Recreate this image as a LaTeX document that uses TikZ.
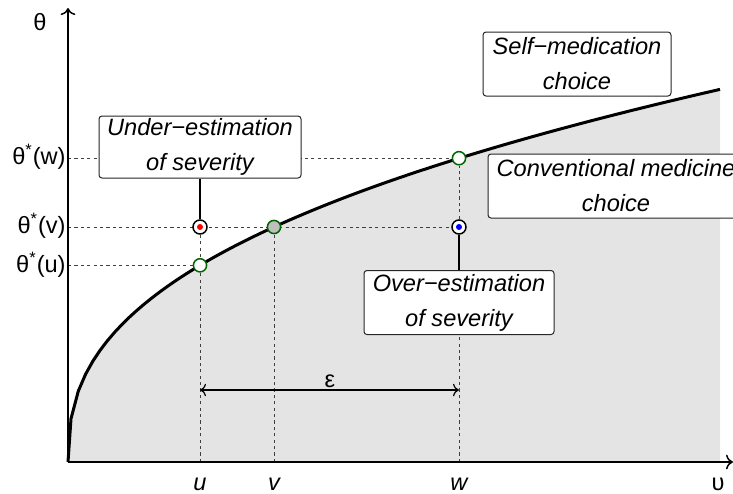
\documentclass[tikz,border=0pt]{standalone}
\usepackage{fontspec}
\setmainfont{Liberation Sans}
\usetikzlibrary{arrows.meta, positioning, backgrounds}
\definecolor{areagray}{HTML}{E4E4E4}
\definecolor{ptgreen}{HTML}{006400}
\tikzset{
	choicebox/.style={
			draw=black!85,
			fill=white,
			rounded corners=1.5pt,
			line width=0.5pt,
			align=center,
			inner sep=0pt,
			font=\fontsize{11.8}{17.5}\selectfont\itshape
		},
	curvept/.style={
			circle,
			draw=ptgreen,
			line width=0.75pt,
			fill=white,
			minimum size=6.6pt,
			inner sep=0pt
		},
	guesspt/.style={
			circle,
			draw=black,
			line width=0.75pt,
			fill=white,
			minimum size=7pt,
			inner sep=0pt
		},
	guidline/.style={
			draw=black!75,
			line width=0.45pt,
			dash pattern=on 1.6pt off 1.6pt
		},
	axislabel/.style={font=\fontsize{11.8}{14}\selectfont, inner sep=0pt}
}

\begin{document}
\begin{tikzpicture}[x=0.5pt, y=-0.5pt]
  \useasboundingbox (0,0) rectangle (733,493);

  % axes ends
  \coordinate (o) at (68,462);
  \coordinate (ytop) at (68,8);
  \coordinate (xend) at (733,462);

  % feet of the guide lines
  \coordinate (xu) at (200,462);
  \coordinate (xv) at (274,462);
  \coordinate (xw) at (459,462);
  \coordinate (yu) at (68,265.3);
  \coordinate (yv) at (68,227);
  \coordinate (yw) at (68,158.2);

  % points
  \node[curvept] (pu) at (200,265.3) {};
  \node[curvept, fill=black!25] (pv) at (274,227) {};
  \node[curvept] (pw) at (459,158.2) {};
  \node[guesspt] (pr) at (200,227) {};
  \node[guesspt] (pb) at (459,227) {};
  \fill[red] (pr) circle (1.5pt);
  \fill[blue] (pb) circle (1.5pt);

  % boxes
  \node[choicebox, minimum width=101pt, minimum height=31pt] (under) at (200,147) {Under−estimation\\of severity};
  \node[choicebox, minimum width=95pt, minimum height=32pt] (over) at (459,302.5) {Over−estimation\\of severity};
  \node[choicebox, minimum width=94pt, minimum height=32pt] (self) at (577,64) {Self−medication\\choice};
  \node[choicebox, minimum width=128pt, minimum height=32pt] (conv) at (616,186) {Conventional medicine\\choice};

  \draw[line width=0.6pt] (under) -- (pr);
  \draw[line width=0.6pt] (over) -- (pb);

  % labels
  \node[axislabel] (th) at (40,22) {θ};
  \node[axislabel, anchor=east] (lw) at (66,157) {θ\textsuperscript{*}(w)};
  \node[axislabel, anchor=east] (lv) at (66,226) {θ\textsuperscript{*}(v)};
  \node[axislabel, anchor=east] (lu) at (66,265) {θ\textsuperscript{*}(u)};
  \node[axislabel] (tu) at (200,484) {\itshape u};
  \node[axislabel] (tv) at (274,484) {\itshape v};
  \node[axislabel] (tw) at (459,484) {\itshape w};
  \node[axislabel] (tups) at (718,484) {υ};

  \coordinate (ea) at (200,390);
  \coordinate (eb) at (459,390);
  \draw[line width=0.6pt, {To[length=3pt]}-{To[length=3pt]}] (ea) -- (eb);
  \node[axislabel] (eps) at (330,381) {ε};

  \begin{scope}[on background layer]
    \fill[areagray] (o) -- plot[domain=3:652, samples=90] ({68+\x},{462-27.9*\x^0.4}) -- (720,462) -- cycle;
    \draw[guidline] (yw) -- (pw);
    \draw[guidline] (yv) -- (pb);
    \draw[guidline] (yu) -- (pu);
    \draw[guidline] (xu) -- (pr);
    \draw[guidline] (xv) -- (pv);
    \draw[guidline] (xw) -- (pw);
    \draw[line width=1.5pt] (o) -- plot[domain=3:652, samples=90] ({68+\x},{462-27.9*\x^0.4});
    \draw[line width=0.75pt, -{To[length=3.5pt]}] (o) -- (ytop);
    \draw[line width=0.75pt, -{To[length=3.5pt]}] (o) -- (xend);
  \end{scope}
\end{tikzpicture}
\end{document}
